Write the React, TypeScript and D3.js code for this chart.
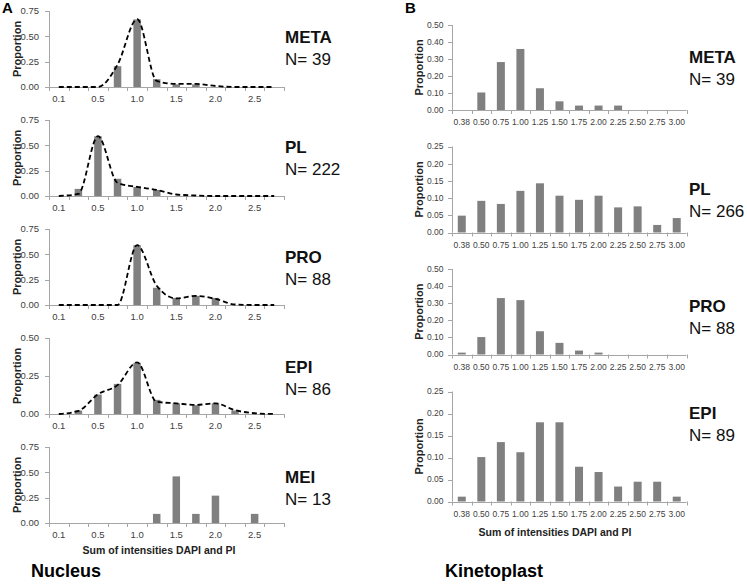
import React from "react";
import * as d3 from "d3";

// ---- data ----
const nucleusCats = ["0.1", "0.25", "0.5", "0.75", "1.0", "1.25", "1.5", "1.75", "2.0", "2.25", "2.5", "2.75"];
const nucleusTickLabels = ["0.1", "0.5", "1.0", "1.5", "2.0", "2.5"];
const kinetoCats = ["0.38", "0.50", "0.75", "1.00", "1.25", "1.50", "1.75", "2.00", "2.25", "2.50", "2.75", "3.00"];

const nucleusStages = ["META", "PL", "PRO", "EPI", "MEI"];
const nucleusN = [39, 222, 88, 86, 13];
const nucleusYMax = [0.75, 0.75, 0.75, 0.5, 0.75];

const metaNucBars = [0, 0, 0, 0.205, 0.667, 0.077, 0.026, 0.026, 0, 0, 0, 0];
const metaNucCurve = [0, 0, 0, 0.22, 0.67, 0.06, 0.03, 0.03, 0.01, 0, 0, 0];
const plNucBars = [0, 0.07, 0.59, 0.17, 0.09, 0.06, 0, 0, 0, 0, 0, 0];
const plNucCurve = [0, 0.02, 0.59, 0.13, 0.09, 0.06, 0.015, 0.005, 0, 0, 0, 0];
const proNucBars = [0, 0, 0, 0, 0.59, 0.17, 0.07, 0.09, 0.07, 0, 0, 0];
const proNucCurve = [0, 0, 0, 0, 0.59, 0.19, 0.065, 0.09, 0.06, 0.005, 0, 0];
const epiNucBars = [0, 0.023, 0.128, 0.198, 0.337, 0.093, 0.07, 0.058, 0.07, 0.023, 0, 0];
const epiNucCurve = [0, 0.02, 0.13, 0.19, 0.34, 0.08, 0.07, 0.06, 0.07, 0.025, 0.005, 0];
const meiNucBars = [0, 0, 0, 0, 0, 0.09, 0.46, 0.09, 0.27, 0, 0.09, 0];

const kinetoStages = ["META", "PL", "PRO", "EPI"];
const kinetoN = [39, 266, 88, 89];
const kinetoYMax = [0.5, 0.25, 0.5, 0.25];
const kinetoYStep = [0.1, 0.05, 0.1, 0.05];

const metaKinBars = [0, 0.103, 0.282, 0.359, 0.128, 0.051, 0.026, 0.026, 0.026, 0, 0, 0];
const plKinBars = [0.049, 0.092, 0.083, 0.121, 0.143, 0.107, 0.095, 0.107, 0.073, 0.076, 0.022, 0.042];
const proKinBars = [0.011, 0.102, 0.33, 0.318, 0.136, 0.068, 0.023, 0.011, 0, 0, 0, 0];
const epiKinBars = [0.011, 0.101, 0.135, 0.112, 0.18, 0.18, 0.079, 0.067, 0.034, 0.045, 0.045, 0.011];

const nucleusBars = [metaNucBars, plNucBars, proNucBars, epiNucBars, meiNucBars];
const nucleusCurves = [metaNucCurve, plNucCurve, proNucCurve, epiNucCurve, null];
const kinetoBars = [metaKinBars, plKinBars, proKinBars, epiKinBars];

// ---- style / layout ----
const FONT = "'Liberation Sans', Arial, Helvetica, sans-serif";
const AXIS = "#a6a6a6";
const BAR = "#808080";
const TICK_TEXT = "#404040";

const nucTops = [11, 120, 229, 338, 447];
const nucBottoms = [87, 196, 305, 414, 523];
const kinTops = [25, 146.5, 269, 391.5];
const kinBottoms = [110, 232.5, 354.5, 501.5];
const kinLabelBase = [63, 195, 312, 419];

interface PanelProps {
  cats: string[];
  shown: string[] | null;
  bars: number[];
  curve: number[] | null;
  yMax: number;
  yStep: number;
  x0: number;
  x1: number;
  top: number;
  bottom: number;
  barW: number;
  tickFont: number;
  labelGap: number;
  titleX: number;
}

function Panel(p: PanelProps) {
  const x = d3.scaleBand<string>().domain(p.cats).range([p.x0, p.x1]);
  const y = d3.scaleLinear().domain([0, p.yMax]).range([p.bottom, p.top]);
  const ticks = d3.range(0, p.yMax + p.yStep / 2, p.yStep);
  const fmt = d3.format(".2f");
  const cx = (c: string) => (x(c) as number) + x.bandwidth() / 2;
  const line = d3
    .line<number>()
    .x((_, i) => cx(p.cats[i]))
    .y((v) => y(v))
    .curve(d3.curveMonotoneX);
  const bounds = p.cats.map((c) => x(c) as number).concat([p.x1]);

  return (
    <g>
      {/* y axis */}
      <line x1={p.x0 + 0.5} x2={p.x0 + 0.5} y1={p.top} y2={p.bottom} stroke={AXIS} />
      {ticks.map((t) => (
        <g key={t}>
          <line x1={p.x0 - 4} x2={p.x0} y1={Math.round(y(t)) + 0.5} y2={Math.round(y(t)) + 0.5} stroke={AXIS} />
          <text
            x={p.x0 - p.labelGap}
            y={y(t)}
            dy="0.35em"
            textAnchor="end"
            fontSize={p.tickFont}
            fill={TICK_TEXT}
          >
            {fmt(t)}
          </text>
        </g>
      ))}
      <text
        transform={`translate(${p.titleX},${(p.top + p.bottom) / 2}) rotate(-90)`}
        textAnchor="middle"
        dy="0.35em"
        fontWeight="bold"
        fontSize={11}
        fill="#222"
      >
        Proportion
      </text>

      {/* bars */}
      {p.bars.map((v, i) =>
        v > 0 ? (
          <rect
            key={i}
            x={cx(p.cats[i]) - p.barW / 2}
            y={y(v)}
            width={p.barW}
            height={p.bottom - y(v)}
            fill={BAR}
          />
        ) : null
      )}

      {/* x axis */}
      <line x1={p.x0} x2={p.x1} y1={Math.round(p.bottom) + 0.5} y2={Math.round(p.bottom) + 0.5} stroke={AXIS} />
      {bounds.map((b, i) => (
        <line
          key={i}
          x1={Math.round(b) + 0.5}
          x2={Math.round(b) + 0.5}
          y1={p.bottom}
          y2={p.bottom + 4}
          stroke={AXIS}
        />
      ))}
      {p.cats.map((c) =>
        !p.shown || p.shown.includes(c) ? (
          <text
            key={c}
            x={cx(c)}
            y={p.bottom + 15}
            textAnchor="middle"
            fontSize={p.tickFont}
            fill={TICK_TEXT}
          >
            {c}
          </text>
        ) : null
      )}

      {/* smoothed curve */}
      {p.curve && (
        <path
          d={line(p.curve) || ""}
          fill="none"
          stroke="#000"
          strokeWidth={1.8}
          strokeDasharray="5,3"
        />
      )}
    </g>
  );
}

export default function App() {
  return (
    <svg
      width={747}
      height={584}
      style={{ position: "absolute", left: 0, top: 0, background: "#fff" }}
      fontFamily={FONT}
    >
      <text x={2} y={13} fontSize={15} fontWeight="bold" fill="#000">
        A
      </text>
      <text x={405} y={13} fontSize={15} fontWeight="bold" fill="#000">
        B
      </text>

      {nucleusStages.map((s, i) => (
        <g key={s}>
          <Panel
            cats={nucleusCats}
            shown={nucleusTickLabels}
            bars={nucleusBars[i]}
            curve={nucleusCurves[i]}
            yMax={nucleusYMax[i]}
            yStep={0.25}
            x0={49}
            x1={284}
            top={nucTops[i]}
            bottom={nucBottoms[i]}
            barW={7.5}
            tickFont={9.5}
            labelGap={10}
            titleX={17}
          />
          <text x={285} y={43 + 110 * i} fontSize={17} fontWeight="bold" fill="#111">
            {s}
          </text>
          <text x={285} y={65 + 110 * i} fontSize={17} fill="#111">
            {`N= ${nucleusN[i]}`}
          </text>
        </g>
      ))}

      {kinetoStages.map((s, i) => (
        <g key={s}>
          <Panel
            cats={kinetoCats}
            shown={null}
            bars={kinetoBars[i]}
            curve={null}
            yMax={kinetoYMax[i]}
            yStep={kinetoYStep[i]}
            x0={452}
            x1={686.5}
            top={kinTops[i]}
            bottom={kinBottoms[i]}
            barW={8}
            tickFont={8.5}
            labelGap={8.5}
            titleX={419}
          />
          <text x={689} y={kinLabelBase[i]} fontSize={17} fontWeight="bold" fill="#111">
            {s}
          </text>
          <text x={689} y={kinLabelBase[i] + 22} fontSize={17} fill="#111">
            {`N= ${kinetoN[i]}`}
          </text>
        </g>
      ))}

      <text x={159} y={554} textAnchor="middle" fontSize={10.5} fontWeight="bold" fill="#222">
        Sum of intensities DAPI and PI
      </text>
      <text x={555} y={535.5} textAnchor="middle" fontSize={10.5} fontWeight="bold" fill="#222">
        Sum of intensities DAPI and PI
      </text>
      <text x={31} y={577} fontSize={18} fontWeight="bold" fill="#000">
        Nucleus
      </text>
      <text x={445} y={577} fontSize={18} fontWeight="bold" fill="#000">
        Kinetoplast
      </text>
    </svg>
  );
}
